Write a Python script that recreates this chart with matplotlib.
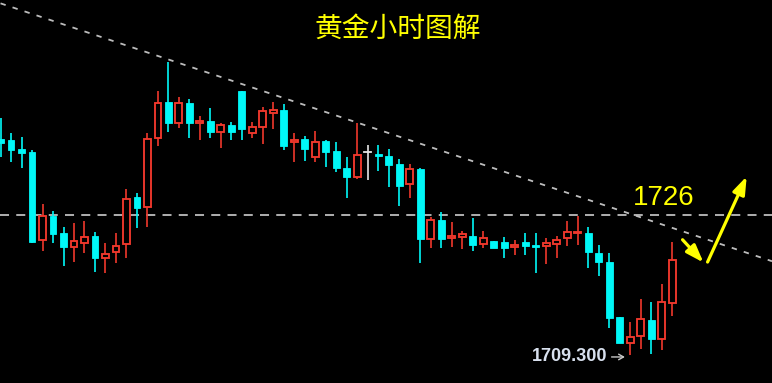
import matplotlib
matplotlib.use("Agg")
import matplotlib.pyplot as plt
from matplotlib.patches import Rectangle, FancyArrowPatch

plt.rcParams['font.family'] = ['Noto Sans CJK SC', 'DejaVu Sans']

# ---- data (gold, hourly) ----
opens = [1735.0, 1734.9, 1733.9, 1733.5, 1723.0, 1725.9, 1723.9, 1722.2, 1722.7, 1723.5,
         1720.9, 1721.6, 1722.5, 1728.1, 1727.0, 1735.2, 1739.5, 1737.0, 1739.3, 1736.9,
         1737.2, 1735.9, 1736.7, 1740.8, 1735.8, 1736.5, 1738.2, 1738.5, 1734.7, 1735.0,
         1732.9, 1734.8, 1733.6, 1731.6, 1730.5, 1733.5, 1733.3, 1733.0, 1732.1, 1729.7,
         1731.5, 1723.1, 1725.4, 1723.3, 1723.4, 1723.5, 1722.5, 1722.9, 1722.8, 1722.2,
         1722.8, 1722.4, 1722.3, 1722.5, 1723.3, 1723.8, 1723.9, 1721.5, 1720.4, 1713.9,
         1710.8, 1711.6, 1713.5, 1711.2, 1715.5]
highs = [1737.5, 1735.8, 1735.3, 1733.7, 1727.3, 1726.5, 1724.6, 1725.0, 1725.3, 1724.0,
         1722.7, 1723.9, 1729.1, 1728.6, 1735.8, 1740.8, 1744.2, 1740.0, 1739.8, 1737.8,
         1738.7, 1737.0, 1737.1, 1740.8, 1737.1, 1738.9, 1739.5, 1739.2, 1735.8, 1735.4,
         1736.0, 1734.9, 1734.7, 1732.9, 1737.0, 1734.3, 1734.3, 1733.9, 1732.7, 1732.1,
         1731.6, 1725.8, 1726.4, 1725.2, 1724.1, 1725.6, 1724.1, 1722.9, 1723.4, 1723.0,
         1723.9, 1723.9, 1723.3, 1723.5, 1725.3, 1725.9, 1724.6, 1722.4, 1721.5, 1713.9,
         1713.3, 1716.0, 1715.6, 1717.8, 1722.8]
lows = [1732.9, 1732.3, 1731.6, 1722.7, 1721.7, 1722.7, 1719.9, 1720.4, 1721.5, 1719.2,
        1719.1, 1720.3, 1720.9, 1724.5, 1724.6, 1734.2, 1735.9, 1736.4, 1735.2, 1734.9,
        1735.2, 1734.0, 1734.9, 1734.9, 1735.2, 1734.5, 1736.2, 1733.7, 1732.3, 1732.4,
        1732.3, 1731.7, 1731.1, 1728.0, 1730.3, 1730.2, 1731.2, 1729.3, 1727.1, 1728.0,
        1720.3, 1722.1, 1722.1, 1722.2, 1722.0, 1721.7, 1722.1, 1722.1, 1720.9, 1721.2,
        1721.2, 1719.1, 1720.2, 1720.9, 1722.3, 1722.4, 1719.7, 1718.7, 1712.5, 1710.8,
        1709.3, 1710.0, 1709.5, 1709.9, 1714.0]
closes = [1734.6, 1733.7, 1733.4, 1722.8, 1725.9, 1723.7, 1722.2, 1722.9, 1723.4, 1720.9,
          1721.4, 1722.3, 1727.9, 1726.8, 1735.0, 1739.3, 1737.0, 1739.3, 1737.0, 1737.2,
          1735.9, 1736.7, 1735.9, 1736.2, 1736.5, 1738.4, 1738.5, 1734.2, 1734.9, 1733.9,
          1734.7, 1733.5, 1731.6, 1730.5, 1733.1, 1733.5, 1733.0, 1731.9, 1729.5, 1731.5,
          1723.1, 1725.4, 1723.1, 1723.5, 1723.7, 1722.4, 1723.3, 1722.1, 1722.1, 1722.4,
          1722.3, 1722.2, 1722.7, 1723.0, 1724.0, 1724.0, 1721.6, 1720.4, 1713.7, 1710.8,
          1711.5, 1713.6, 1711.2, 1715.6, 1720.6]

level_price = 1726.0           # horizontal dashed level
trend_x = [0.0, 73.5]          # trend line (candle index)
trend_y = [1751.2, 1720.5]     # trend line prices
low_label = "1709.300"
low_price = 1709.3
title = "黄金小时图解"
target_label = "1726"

# ---- style ----
BG = "#000000"
UP = "#f0382c"
DOWN = "#00f8f8"
DOJI = "#e6e6e6"
GRID = "#bdbdbd"
YEL = "#ffff00"

fig = plt.figure(figsize=(7.72, 3.83), dpi=100, facecolor=BG)
ax = fig.add_axes([0, 0, 1, 1], facecolor=BG)
ax.set_xlim(-0.05, 73.5)
ax.set_ylim(1706.0, 1751.6)
ax.axis("off")

# dashed lines
ax.axhline(level_price, color=GRID, lw=1.3, dashes=(5, 4), zorder=1)
ax.plot(trend_x, trend_y, color=GRID, lw=1.3, dashes=(3, 4), zorder=1)

w = 0.66
for i, (o, h, l, c) in enumerate(zip(opens, highs, lows, closes)):
    if c > o:
        col = UP
    elif c < o:
        col = DOWN
    else:
        col = DOJI
    ax.plot([i, i], [l, h], color=col, lw=1.2, zorder=2, solid_capstyle="butt")
    bot, top = min(o, c), max(o, c)
    hgt = max(top - bot, 0.12)
    if col == UP:
        ax.add_patch(Rectangle((i - w / 2, bot), w, hgt, facecolor=BG,
                               edgecolor=UP, lw=1.35, zorder=3))
    elif col == DOWN:
        ax.add_patch(Rectangle((i - w / 2, bot), w, hgt, facecolor=DOWN,
                               edgecolor=DOWN, lw=0.6, zorder=3))
    else:
        ax.plot([i - w / 2, i + w / 2], [o, o], color=DOJI, lw=1.3, zorder=3)

# low label with arrow
ax.annotate("", xy=(59.75, low_price - 0.2), xytext=(57.95, low_price - 0.2),
            arrowprops=dict(arrowstyle="->,head_length=0.35,head_width=0.2",
                            color="#c8c8c8", lw=1.0), zorder=4)
ax.text(57.8, low_price - 0.2, low_label, color="#d8e0ee", fontsize=13,
        fontweight="bold", family=["Liberation Sans", "DejaVu Sans"],
        ha="right", va="center", zorder=4)

# yellow projection arrows
style = "-|>,head_length=4.8,head_width=1.7"
a1 = FancyArrowPatch((64.8, 1723.3), (67.15, 1720.1), arrowstyle=style,
                     color=YEL, lw=2.3, mutation_scale=2.2, zorder=5)
a2 = FancyArrowPatch((67.25, 1720.1), (71.2, 1730.9), arrowstyle=style,
                     color=YEL, lw=2.3, mutation_scale=2.2, zorder=5)
ax.add_patch(a1)
ax.add_patch(a2)

ax.text(63.15, 1728.0, target_label, color=YEL, fontsize=20,
        family=["Liberation Sans", "DejaVu Sans"], ha="center", va="center", zorder=5)

fig.text(398 / 772, 1 - 29 / 383, title, color=YEL, fontsize=20,
         family=["Noto Sans CJK SC", "DejaVu Sans"], ha="center", va="center")

fig.savefig("out.png", dpi=100, facecolor=BG)
